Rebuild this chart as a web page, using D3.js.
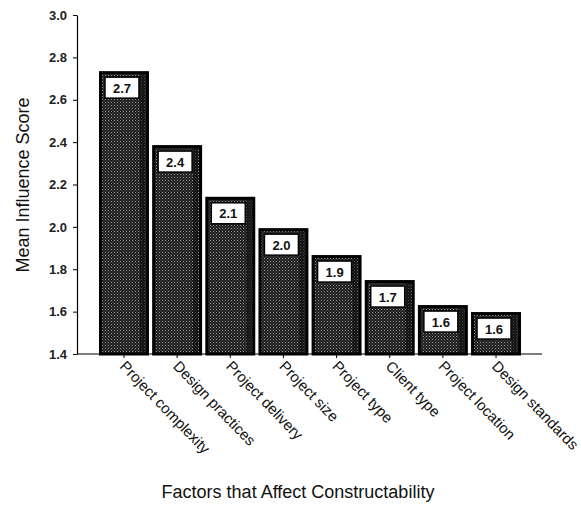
<!DOCTYPE html>
<html>
<head>
<meta charset="utf-8">
<script src="https://cdn.jsdelivr.net/npm/d3@7"></script>
<style>
body{margin:0;background:#fff;}
text{font-family:"Liberation Sans",Arial,sans-serif;}
</style>
</head>
<body>
<svg id="chart" width="581" height="506"></svg>
<script>
const categories = ["Project complexity","Design practices","Project delivery","Project size","Project type","Client type","Project location","Design standards"];
const values = [2.735, 2.386, 2.142, 1.994, 1.867, 1.749, 1.631, 1.598];
const valueLabels = ["2.7","2.4","2.1","2.0","1.9","1.7","1.6","1.6"];
const yTicks = [1.4,1.6,1.8,2.0,2.2,2.4,2.6,2.8,3.0];

const svg = d3.select("#chart");
const defs = svg.append("defs");
const pat = defs.append("pattern").attr("id","stip").attr("width",3).attr("height",3).attr("patternUnits","userSpaceOnUse");
pat.append("rect").attr("width",3).attr("height",3).attr("fill","#1c1c1c");
pat.append("rect").attr("x",0).attr("y",0).attr("width",1).attr("height",1).attr("fill","#9a9a9a");
pat.append("rect").attr("x",1.5).attr("y",1.5).attr("width",1).attr("height",1).attr("fill","#6a6a6a");

const x0 = 77, x1 = 542, yTop = 15, yBase = 354;
const y = d3.scaleLinear().domain([1.4,3.0]).range([yBase,yTop]);
const x = d3.scaleBand().domain(categories).range([99,521]).paddingInner(0.06).paddingOuter(0);

// bars
const g = svg.append("g");
g.selectAll("rect.bar").data(categories).join("rect").attr("class","bar")
  .attr("x",d=>x(d)+1.5)
  .attr("y",(d,i)=>y(values[i])+1.5)
  .attr("width",x.bandwidth()-3)
  .attr("height",(d,i)=>yBase - y(values[i]) - 1.5)
  .attr("fill","url(#stip)")
  .attr("stroke","#000").attr("stroke-width",3);
// darker right edge strip
g.selectAll("rect.edge").data(categories).join("rect").attr("class","edge")
  .attr("x",d=>x(d)+x.bandwidth()-9)
  .attr("y",(d,i)=>y(values[i])+3)
  .attr("width",5)
  .attr("height",(d,i)=>yBase - y(values[i]) - 3)
  .attr("fill","#0a0a0a").attr("opacity",0.55);

// value labels
const lab = g.selectAll("g.lab").data(categories).join("g").attr("class","lab")
  .attr("transform",(d,i)=>`translate(${x(d)+x.bandwidth()/2-2},${y(values[i])+6})`);
lab.append("rect").attr("x",-17).attr("y",0).attr("width",34).attr("height",21)
  .attr("fill","#fff").attr("stroke","#000").attr("stroke-width",1.5);
lab.append("text").attr("x",0).attr("y",15.5).attr("text-anchor","middle")
  .attr("font-size",13).attr("font-weight","bold").attr("fill","#111").text((d,i)=>valueLabels[i]);

// y axis
const yAxis = d3.axisLeft(y).tickValues(yTicks).tickFormat(d3.format(".1f")).tickSize(4).tickSizeOuter(0).tickPadding(6);
const ya = svg.append("g").attr("transform",`translate(${x0},0)`).call(yAxis);
ya.select(".domain").attr("stroke","#000").attr("stroke-width",1.2);
ya.selectAll("text").attr("font-size",13).attr("font-weight","bold").attr("fill","#222")
  .style("font-family","'Liberation Sans',Arial,sans-serif");

// x axis
const xa = svg.append("g").attr("transform",`translate(0,${yBase})`)
  .call(d3.axisBottom(x).tickSize(4).tickSizeOuter(0).tickFormat(""));
xa.select(".domain").attr("d",`M${x0},0H${x1}`).attr("stroke","#000").attr("stroke-width",1.2);
xa.selectAll(".tick line").attr("stroke","#000");

// rotated category labels
svg.append("g").selectAll("text").data(categories).join("text")
  .attr("transform",d=>`translate(${x(d)+x.bandwidth()/2-5},${yBase+13}) rotate(46)`)
  .attr("font-size",15).attr("fill","#111").attr("text-anchor","start")
  .text(d=>d);

// titles
svg.append("text").attr("transform",`translate(29,${185}) rotate(-90)`)
  .attr("text-anchor","middle").attr("font-size",18).attr("fill","#111").text("Mean Influence Score");
svg.append("text").attr("x",298).attr("y",498).attr("text-anchor","middle")
  .attr("font-size",18).attr("fill","#111").text("Factors that Affect Constructability");
</script>
</body>
</html>
